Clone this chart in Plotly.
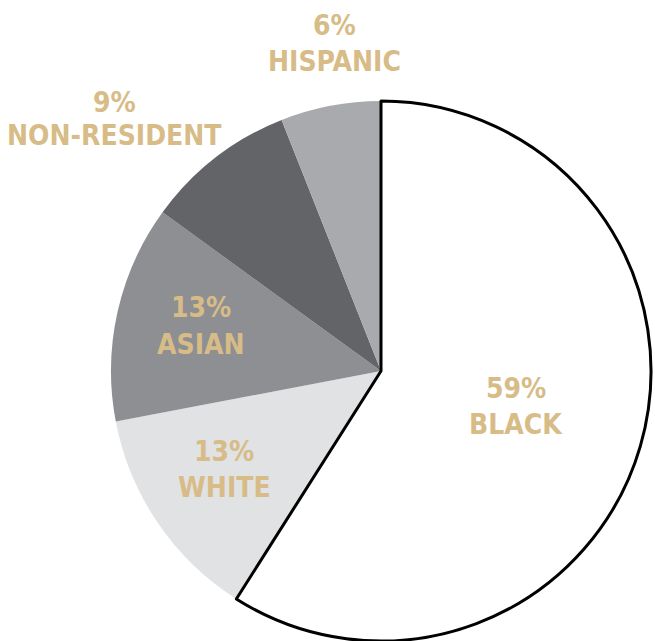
import plotly.graph_objects as go

labels = ["BLACK", "WHITE", "ASIAN", "NON-RESIDENT", "HISPANIC"]
values = [59, 13, 13, 9, 6]
pct_labels = ["59%", "13%", "13%", "9%", "6%"]
colors = ["#ffffff", "#e1e2e4", "#8e8f93", "#636467", "#a9aaae"]

W, H = 655, 641
TEXT_COLOR = "#d7bc87"
FONT = "DejaVu Sans Condensed, DejaVu Sans, sans-serif"

# label centres in pixels: (x, y_pct, y_name)
label_pos = {
    "BLACK": (516, 388, 424),
    "WHITE": (224, 451, 487),
    "ASIAN": (201, 307, 344),
    "NON-RESIDENT": (114, 103, 136),
    "HISPANIC": (334, 25, 61),
}

dom_x = [110 / W, 652 / W]
dom_y = [0, 540 / H]

fig = go.Figure()
fig.add_trace(go.Pie(
    labels=labels, values=values, sort=False, direction="clockwise", rotation=0,
    marker=dict(colors=colors, line=dict(width=0)),
    textinfo="none", hoverinfo="label+percent", showlegend=False,
    domain=dict(x=dom_x, y=dom_y),
))
# overlay outline for the first slice
fig.add_trace(go.Pie(
    labels=labels, values=values, sort=False, direction="clockwise", rotation=0,
    marker=dict(colors=["rgba(0,0,0,0)"] * len(values),
                line=dict(color=["#000000"] + ["rgba(0,0,0,0)"] * (len(values) - 1),
                          width=[3] + [0] * (len(values) - 1))),
    textinfo="none", hoverinfo="skip", showlegend=False,
    domain=dict(x=dom_x, y=dom_y),
))

annotations = []
for lab, pct in zip(labels, pct_labels):
    x, y1, y2 = label_pos[lab]
    for txt, yy in ((pct, y1), (lab, y2)):
        annotations.append(dict(
            x=x / W, y=1 - yy / H, xref="paper", yref="paper",
            text=txt, showarrow=False, xanchor="center", yanchor="middle",
            font=dict(family=FONT, size=28, color=TEXT_COLOR, weight="bold"),
        ))

fig.update_layout(
    width=W, height=H, margin=dict(l=0, r=0, t=0, b=0),
    paper_bgcolor="#ffffff", plot_bgcolor="#ffffff",
    annotations=annotations,
)
fig.write_html("out.html")
